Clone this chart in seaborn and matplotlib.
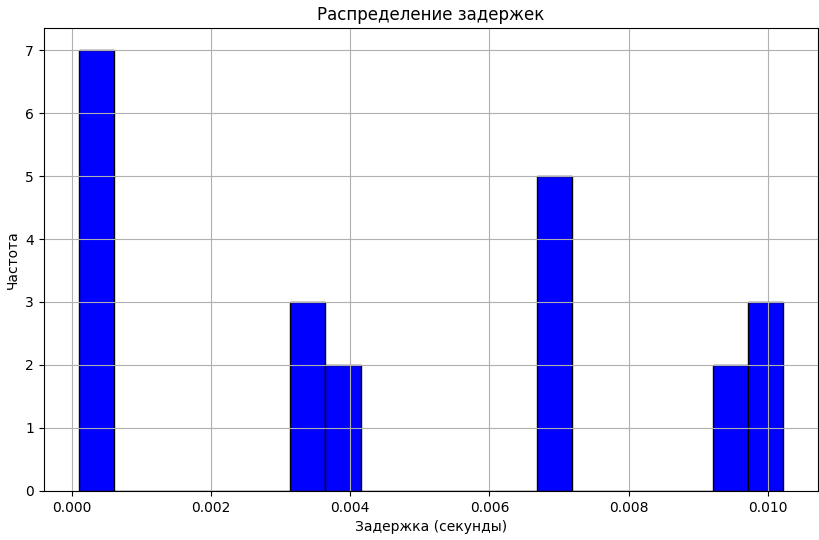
import numpy as np
import pandas as pd
import matplotlib
matplotlib.use('Agg')
import matplotlib.pyplot as plt
import seaborn as sns

# ======================
# DATA
# ======================
# Delays in seconds (20 bins)
delays = [0.0001, 0.0002, 0.0002, 0.0003, 0.0003, 0.0004, 0.0005,
          0.0034, 0.0035, 0.0036,
          0.0038, 0.0040,
          0.0069, 0.0070, 0.0070, 0.0071, 0.0071,
          0.0094, 0.0096,
          0.0099, 0.0101, 0.01022]
n_bins = 20

df = pd.DataFrame({'delay': delays})

# ======================
# PLOT
# ======================
fig, ax = plt.subplots(figsize=(8.19, 5.4), dpi=100)
sns.histplot(data=df, x='delay', bins=n_bins, color='blue', edgecolor='black',
             alpha=1.0, linewidth=1.0, ax=ax)
ax.set_title('Распределение задержек', fontsize=12)
ax.set_xlabel('Задержка (секунды)', fontsize=10)
ax.set_ylabel('Частота', fontsize=10)
ax.grid(True)

plt.subplots_adjust(left=0.0535, right=0.999, top=0.948, bottom=0.091)
plt.savefig('out.png', dpi=100)
